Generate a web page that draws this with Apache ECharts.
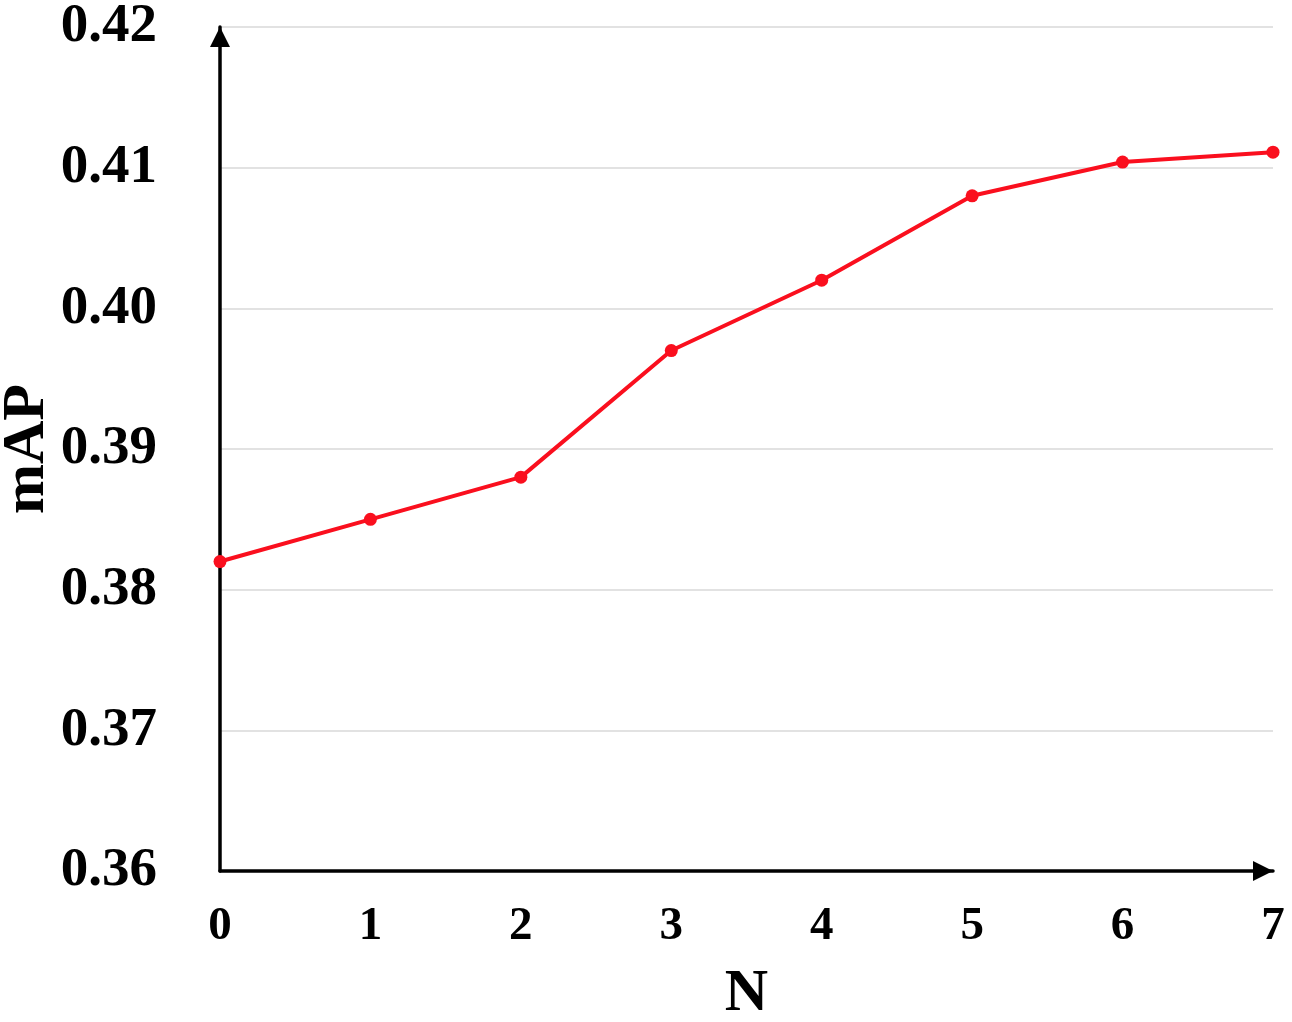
<!DOCTYPE html>
<html>
<head>
<meta charset="utf-8">
<script src="https://cdn.jsdelivr.net/npm/echarts@6/dist/echarts.min.js"></script>
<style>
html,body{margin:0;padding:0;background:#fff;}
#chart{width:1292px;height:1022px;}
</style>
</head>
<body>
<div id="chart"></div>
<script>
const categories = ['0','1','2','3','4','5','6','7'];
const mapValues = [0.382, 0.385, 0.388, 0.397, 0.402, 0.408, 0.4104, 0.4111];
const yMin = 0.36, yMax = 0.42, yStep = 0.01;
const xName = 'N';
const yName = 'mAP';

const font = 'Liberation Serif';
const chart = echarts.init(document.getElementById('chart'));
chart.setOption({
  animation: false,
  backgroundColor: '#ffffff',
  grid: {left: 220, right: 19, top: 27, bottom: 151, containLabel: false, outerBoundsMode: 'none'},
  xAxis: {
    type: 'category',
    data: categories,
    boundaryGap: false,
    name: xName,
    nameLocation: 'middle',
    nameGap: 93,
    nameMoveOverlap: false,
    nameTextStyle: {fontFamily: font, fontWeight: 'bold', fontSize: 60, color: '#000'},
    axisLine: {show: true, lineStyle: {color: '#000', width: 3.5}, symbol: ['none', 'triangle'], symbolSize: [20, 20], symbolOffset: [0, -10]},
    axisTick: {show: false},
    splitLine: {show: false},
    axisLabel: {fontFamily: font, fontWeight: 'bold', fontSize: 47, color: '#000', margin: 32}
  },
  yAxis: {
    type: 'value',
    min: yMin, max: yMax, interval: yStep,
    name: yName,
    nameLocation: 'middle',
    nameGap: 163,
    nameMoveOverlap: false,
    nameTextStyle: {fontFamily: font, fontWeight: 'bold', fontSize: 60, color: '#000'},
    axisLine: {show: true, lineStyle: {color: '#000', width: 3.5}, symbol: ['none', 'triangle'], symbolSize: [20, 20], symbolOffset: [0, -10]},
    axisTick: {show: false},
    splitLine: {show: true, lineStyle: {color: '#d9d9d9', width: 1.5}},
    axisLabel: {fontFamily: font, fontWeight: 'bold', fontSize: 55, color: '#000', margin: 63,
      formatter: v => v.toFixed(2)}
  },
  series: [{
    type: 'line',
    data: mapValues,
    symbol: 'circle',
    symbolSize: 13,
    lineStyle: {color: '#fa0f1e', width: 4},
    itemStyle: {color: '#fa0f1e'},
    z: 5
  }]
});
</script>
</body>
</html>
